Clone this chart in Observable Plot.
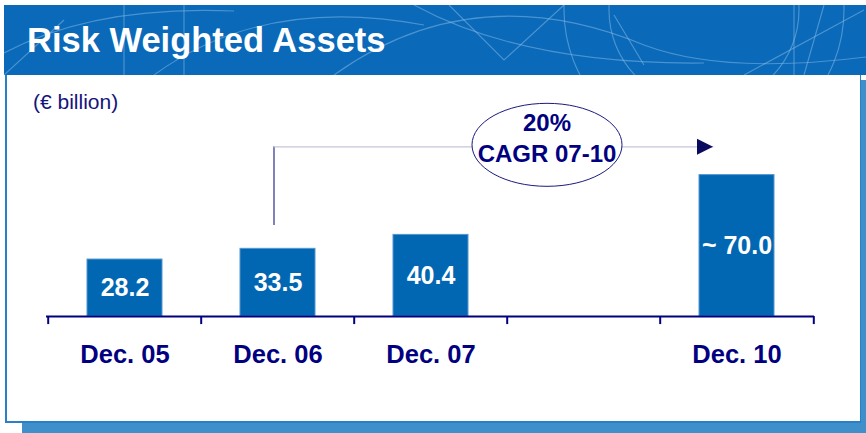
<!DOCTYPE html>
<html>
<head>
<meta charset="utf-8">
<script src="https://cdn.jsdelivr.net/npm/d3@7"></script>
<script src="https://cdn.jsdelivr.net/npm/@observablehq/plot@0.6"></script>
<style>
  html, body { margin: 0; padding: 0; background: #ffffff; }
  #wrap { position: relative; width: 866px; height: 433px; overflow: hidden; font-family: "Liberation Sans", Arial, sans-serif; }
  #shadow { position: absolute; left: 22px; top: 80px; width: 844px; height: 353px; background: #3f8fcb; }
  #panel { position: absolute; left: 5px; top: 75px; width: 856px; height: 348px; background: #ffffff;
           border-left: 2px solid #2a80c8; border-bottom: 2px solid #2a80c8; border-right: 1px solid #2a80c8; box-sizing: border-box; }
  #header { position: absolute; left: 4px; top: 5px; }
  #unit { position: absolute; left: 33px; top: 91px; font-size: 21px; line-height: 21px; color: #14147a; white-space: nowrap; }
  #chart { position: absolute; left: 0; top: 75px; }
</style>
</head>
<body>
<div id="wrap">
  <div id="shadow"></div>
  <div id="panel"></div>
  <svg id="header" width="862" height="70" viewBox="0 0 862 70">
    <rect x="0" y="0" width="862" height="70" fill="#0a69b8"></rect>
    <g fill="none" stroke="#7fb6e6" stroke-opacity="0.55" stroke-width="1.2">
      <path d="M 0 48 Q 90 0 230 6"></path>
      <path d="M 150 70 Q 260 -10 420 20"></path>
      <path d="M 330 70 Q 470 -30 640 40 Q 720 70 862 52"></path>
      <path d="M 410 0 Q 520 60 700 58"></path>
      <circle cx="700" cy="5" r="95"></circle>
      <circle cx="700" cy="5" r="140"></circle>
      <path d="M 445 0 L 500 55 L 560 0"></path>
      <path d="M 180 0 L 180 70"></path>
      <path d="M 120 0 L 120 70"></path>
      <path d="M 790 0 L 790 70"></path>
      <path d="M 820 0 L 800 70"></path>
      <path d="M 740 70 L 860 5"></path>
      <path d="M 610 10 L 640 60"></path>
      <path d="M 0 70 L 60 15"></path>
    </g>
    <text x="23" y="47" fill="#ffffff" font-family="'Liberation Sans', Arial, sans-serif" font-size="34.5" font-weight="bold">Risk Weighted Assets</text>
  </svg>
  <div id="unit">(€ billion)</div>
  <div id="chart"></div>
</div>
<script>
// ---- data ----
const periods = ["Dec. 05", "Dec. 06", "Dec. 07", "Dec. 10"];
const values = [28.2, 33.5, 40.4, 70.0];
const valueLabels = ["28.2", "33.5", "40.4", "~ 70.0"];
// axis slots: a blank slot marks the break between Dec. 07 and Dec. 10
const axisSlots = ["Dec. 05", "Dec. 06", "Dec. 07", " ", "Dec. 10"];
const cagrText = ["20%", "CAGR 07-10"];

const rows = periods.map((p, i) => ({period: p, value: values[i], label: valueLabels[i]}));
const cagr = [{from: "Dec. 06", to: "Dec. 10", at: " ", level: 84, base: 45, text: cagrText.join("\n")}];

const navy = "#000080";
const barBlue = "#0267b3";

const W = 866, H = 358, mL = 46, mR = 52, mT = 39, mB = 117;
const bw = (W - mL - mR) / axisSlots.length;

const ellipse = {
  draw(ctx) {
    const rx = 75, ry = 41.5, k = 0.5523, kx = rx * k, ky = ry * k;
    ctx.moveTo(rx, 0);
    ctx.bezierCurveTo(rx, ky, kx, ry, 0, ry);
    ctx.bezierCurveTo(-kx, ry, -rx, ky, -rx, 0);
    ctx.bezierCurveTo(-rx, -ky, -kx, -ry, 0, -ry);
    ctx.bezierCurveTo(kx, -ry, rx, -ky, rx, 0);
    ctx.closePath();
  }
};
const triRight = {
  draw(ctx) {
    ctx.moveTo(8, 0);
    ctx.lineTo(-8, -8);
    ctx.lineTo(-8, 8);
    ctx.closePath();
  }
};

const chart = Plot.plot({
  width: W, height: H,
  marginLeft: mL, marginRight: mR, marginTop: mT, marginBottom: mB,
  style: {background: "transparent", fontFamily: "'Liberation Sans', Arial, sans-serif", overflow: "visible"},
  x: {type: "band", domain: axisSlots, padding: 0},
  y: {domain: [0, 100], axis: null},
  marks: [
    Plot.barY(rows, {x: "period", y: "value", fill: barBlue, stroke: "#5596d0", strokeWidth: 1, insetLeft: 39, insetRight: 39}),
    Plot.ruleY([0], {stroke: navy, strokeWidth: 2}),
    Plot.ruleX(axisSlots, {x: d => d, y1: 0, y2: -4, dx: -bw / 2, stroke: navy, strokeWidth: 2}),
    Plot.ruleX([axisSlots[axisSlots.length - 1]], {x: d => d, y1: 0, y2: -4, dx: bw / 2, stroke: navy, strokeWidth: 2}),
    Plot.axisX({tickSize: 0, tickPadding: 28, fontSize: 25.5, fontWeight: "bold", fill: navy, label: null}),
    Plot.text(rows, {x: "period", y: d => d.value / 2, text: "label", fill: "white", fontSize: 25, fontWeight: "bold"}),
    // CAGR annotation
    Plot.ruleX(cagr, {x: "from", y1: "base", y2: "level", dx: -4, stroke: "#2e2e8a", strokeWidth: 1.2}),
    Plot.arrow(cagr, {x1: "from", x2: "to", y1: "level", y2: "level", dx: -4, insetEnd: 20, headLength: 0, stroke: "#c6c6dc", strokeWidth: 1.2}),
    Plot.dot(cagr, {x: "at", y: "level", dx: -37, dy: -2, symbol: ellipse, r: 1, fill: "white", stroke: "#1a1a80", strokeWidth: 1}),
    Plot.text(cagr, {x: "at", y: "level", text: "text", dx: -37, dy: -10, fontSize: 24, fontWeight: "bold", fill: navy, lineHeight: 1.29}),
    Plot.dot(cagr, {x: "to", y: "level", dx: -32, symbol: triRight, r: 1, fill: "#0a0a5e", stroke: "none"})
  ]
});
document.getElementById("chart").appendChild(chart);
</script>
</body>
</html>
